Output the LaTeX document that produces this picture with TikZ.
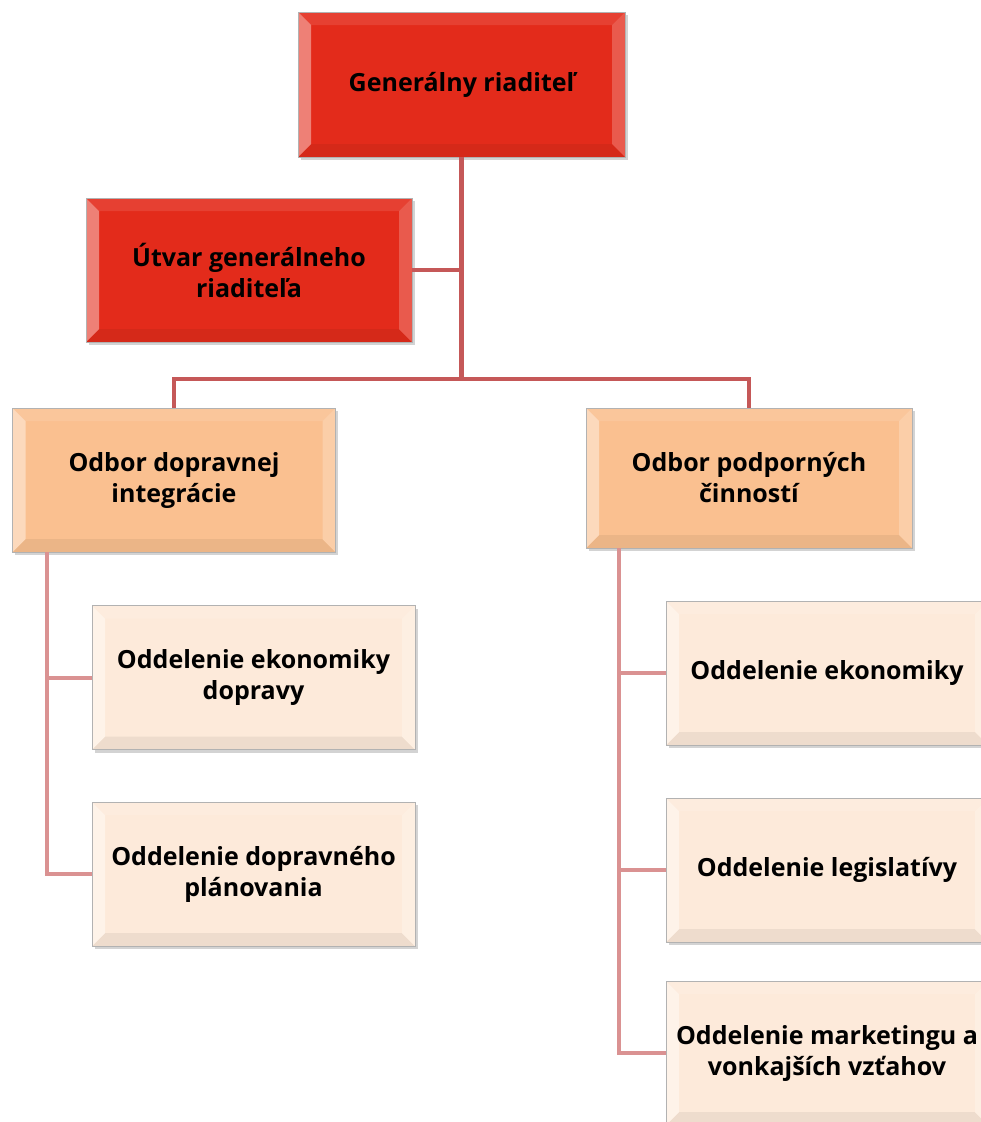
\documentclass[tikz,border=0pt]{standalone}
\usepackage{fontspec}
\setmainfont{Open Sans}
\usetikzlibrary{shadows,calc}
\definecolor{redbox}{RGB}{227,43,27}
\definecolor{orangebox}{RGB}{250,192,144}
\definecolor{lightbox}{RGB}{253,234,218}
\definecolor{mainline}{RGB}{197,88,88}
\definecolor{subline}{RGB}{218,146,146}
\tikzset{
  bbox/.style={draw=black!30, line width=0.6pt, fill=#1,
    minimum width=323pt, minimum height=144pt, inner sep=0pt,
    align=center, font=\bfseries\fontsize{25}{31}\selectfont,
    drop shadow={opacity=0.35, shadow xshift=2.5pt, shadow yshift=-3pt},
    path picture={
      \path (path picture bounding box.south west) coordinate (pa)
            (path picture bounding box.north east) coordinate (pc)
            (path picture bounding box.north west) coordinate (pb)
            (path picture bounding box.south east) coordinate (pd);
      \path ($(pa)+(13pt,13pt)$) coordinate (ia)
            ($(pb)+(13pt,-13pt)$) coordinate (ib)
            ($(pc)+(-13pt,-13pt)$) coordinate (ic)
            ($(pd)+(-13pt,13pt)$) coordinate (id);
      \fill[#1!90!white] (pb) -- (pc) -- (ic) -- (ib) -- cycle;
      \fill[#1!94!black] (pa) -- (pd) -- (id) -- (ia) -- cycle;
      \fill[#1!60!white] (pa) -- (pb) -- (ib) -- (ia) -- cycle;
      \fill[#1!78!white] (pd) -- (pc) -- (ic) -- (id) -- cycle;
    }},
  mainconn/.style={draw=mainline, line width=4.5pt},
  subconn/.style={draw=subline, line width=4pt},
}
\begin{document}
\begin{tikzpicture}[x=1pt,y=-1pt]
\useasboundingbox (0,0) rectangle (981,1122);
\clip (0,0) rectangle (981,1122);

\coordinate (hub) at (461.5,379);
\coordinate (lx) at (47,552);
\coordinate (rx) at (619,548);

\node[bbox=redbox, minimum width=327pt, minimum height=145pt] (gr) at (461.5,84.5) {Generálny riaditeľ};
\node[bbox=redbox, minimum width=326pt] (utvar) at (249,270) {Útvar generálneho\\riaditeľa};
\node[bbox=orangebox] (odi) at (174,480) {Odbor dopravnej\\integrácie};
\node[bbox=orangebox, minimum width=326pt, minimum height=140pt] (opc) at (749,478) {Odbor podporných\\činností};
\node[bbox=lightbox] (oed) at (253.5,677.5) {Oddelenie ekonomiky\\dopravy};
\node[bbox=lightbox] (odp) at (253.5,874) {Oddelenie dopravného\\plánovania};
\node[bbox=lightbox, minimum width=322pt] (oe) at (827,673) {Oddelenie ekonomiky};
\node[bbox=lightbox, minimum width=322pt] (ol) at (827,870) {Oddelenie legislatívy};
\node[bbox=lightbox, minimum width=322pt] (om) at (827,1053) {Oddelenie marketingu a\\vonkajších vzťahov};

\draw[mainconn] (gr.south) -- (hub);
\draw[mainconn] (utvar.east) -- (utvar.east -| hub);
\draw[mainconn] (odi.north) |- (hub) -| (opc.north);
\draw[subconn] (lx) |- (odp.west);
\draw[subconn] (lx |- oed.west) -- (oed.west);
\draw[subconn] (rx) |- (om.west);
\draw[subconn] (rx |- oe.west) -- (oe.west);
\draw[subconn] (rx |- ol.west) -- (ol.west);
\end{tikzpicture}
\end{document}
